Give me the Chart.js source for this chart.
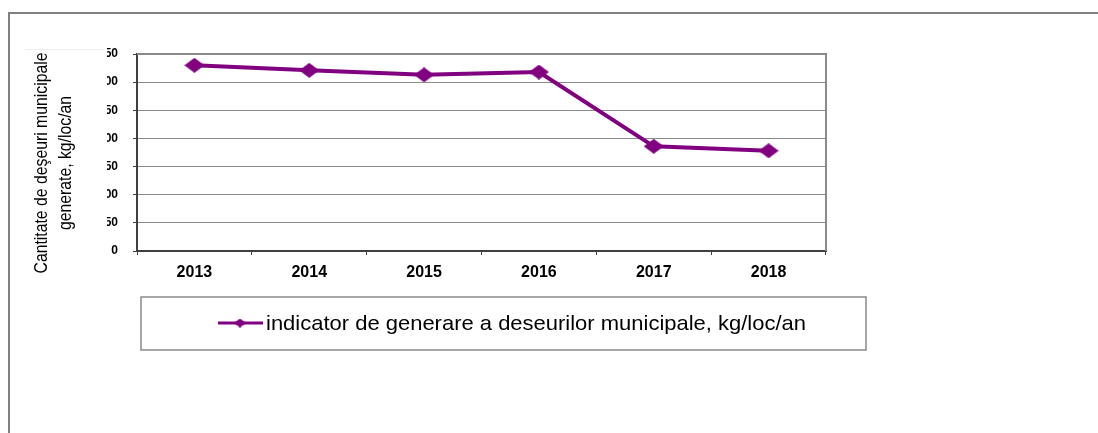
<!DOCTYPE html>
<html>
<head>
<meta charset="utf-8">
<script src="https://cdn.jsdelivr.net/npm/chart.js@4/dist/chart.umd.min.js"></script>
<style>
  html, body { margin: 0; padding: 0; background: #fff; }
  #wrap { width: 1098px; height: 433px; }
</style>
</head>
<body>
<div id="wrap"><canvas id="chart" width="1098" height="433"></canvas></div>
<script>
// ── Data ─────────────────────────────────────────────────────
const years = ['2013', '2014', '2015', '2016', '2017', '2018'];
const kgPerCapita = [330, 321, 313, 318, 186, 178];
const seriesLabel = 'indicator de generare a deseurilor municipale, kg/loc/an';
const axisTitle = ['Cantitate de deşeuri municipale', 'generate, kg/loc/an'];
const yMin = 0, yMax = 350, yStep = 50;

const PURPLE = '#800080';
const FONT = "'Liberation Sans', Arial, sans-serif";

// diamond marker, a bit wider than tall like the original
function diamond(w, h) {
  const c = document.createElement('canvas');
  c.width = w; c.height = h;
  const g = c.getContext('2d');
  g.fillStyle = PURPLE;
  g.beginPath();
  g.moveTo(w / 2, 0); g.lineTo(w, h / 2); g.lineTo(w / 2, h); g.lineTo(0, h / 2);
  g.closePath(); g.fill();
  return c;
}
const marker = diamond(20, 15);

// ── Frame, plot border, legend, axis title ───────────────────
const decor = {
  id: 'decor',
  beforeDraw(chart) {
    const ctx = chart.ctx;
    ctx.save();
    ctx.strokeStyle = '#808080';
    ctx.lineWidth = 2;
    ctx.beginPath();
    ctx.moveTo(9, 433); ctx.lineTo(9, 13); ctx.lineTo(1098, 13);
    ctx.stroke();
    ctx.restore();
  },
  beforeDatasetsDraw(chart) {
    const { ctx, chartArea: a } = chart;
    ctx.save();
    ctx.strokeStyle = '#8a8a8a';
    ctx.lineWidth = 2;
    ctx.beginPath();
    ctx.moveTo(a.left, a.top); ctx.lineTo(a.right, a.top); ctx.lineTo(a.right, a.bottom);
    ctx.stroke();
    ctx.restore();
  },
  afterDraw(chart) {
    const ctx = chart.ctx;
    ctx.save();

    // white box of the rotated title, it hides part of the y labels
    ctx.fillStyle = '#fff';
    ctx.fillRect(14, 48, 93, 240);
    ctx.strokeStyle = '#eeeeee';
    ctx.lineWidth = 1;
    ctx.beginPath(); ctx.moveTo(25, 49.5); ctx.lineTo(104, 49.5); ctx.stroke();

    // rotated axis title, narrow look
    ctx.fillStyle = '#000';
    ctx.font = `19px ${FONT}`;
    ctx.textAlign = 'center';
    ctx.textBaseline = 'alphabetic';
    const sx = 221 / ctx.measureText(axisTitle[0]).width;
    [[47, axisTitle[0]], [71, axisTitle[1]]].forEach(([bx, txt]) => {
      ctx.save();
      ctx.translate(bx, 163);
      ctx.rotate(-Math.PI / 2);
      ctx.scale(sx, 1);
      ctx.fillText(txt, 0, 0);
      ctx.restore();
    });

    // legend box
    ctx.strokeStyle = '#8a8a8a';
    ctx.lineWidth = 1.5;
    ctx.strokeRect(141, 297, 725, 53);
    const ly = 323;
    ctx.strokeStyle = PURPLE;
    ctx.lineWidth = 3;
    ctx.beginPath(); ctx.moveTo(218, ly); ctx.lineTo(263, ly); ctx.stroke();
    ctx.drawImage(diamond(12, 9), 234, ly - 4.5);
    ctx.fillStyle = '#000';
    ctx.font = `21px ${FONT}`;
    ctx.textAlign = 'left';
    ctx.textBaseline = 'middle';
    const lw = ctx.measureText(seriesLabel).width;
    ctx.save();
    ctx.translate(266, ly + 1);
    ctx.scale(540 / lw, 1);
    ctx.fillText(seriesLabel, 0, 0);
    ctx.restore();

    ctx.restore();
  }
};

// ── Chart ────────────────────────────────────────────────────
new Chart(document.getElementById('chart'), {
  type: 'line',
  data: {
    labels: years,
    datasets: [{
      label: seriesLabel,
      data: kgPerCapita,
      borderColor: PURPLE,
      backgroundColor: PURPLE,
      borderWidth: 4,
      pointStyle: marker,
      pointRadius: 8,
      tension: 0,
      fill: false
    }]
  },
  options: {
    responsive: false,
    animation: false,
    events: [],
    layout: { padding: { left: 0, top: 54, right: 272, bottom: 0 } },
    plugins: { legend: { display: false }, tooltip: { enabled: false } },
    scales: {
      x: {
        offset: true,
        afterFit: s => { s.height = 433 - 251; },
        grid: { offset: true, drawOnChartArea: false, tickLength: 4, color: '#404040', lineWidth: 1 },
        border: { color: '#404040', width: 2 },
        ticks: { color: '#000', font: { family: FONT, size: 16, weight: 'bold' }, padding: 8, maxRotation: 0 }
      },
      y: {
        min: yMin, max: yMax,
        afterFit: s => { s.width = 137; },
        grid: { color: '#8a8a8a', lineWidth: 1, tickLength: 4, tickColor: '#404040' },
        border: { color: '#404040', width: 2 },
        ticks: { stepSize: yStep, color: '#000', font: { family: FONT, size: 12, weight: 'bold' }, padding: 15 }
      }
    }
  },
  plugins: [decor]
});
</script>
</body>
</html>
